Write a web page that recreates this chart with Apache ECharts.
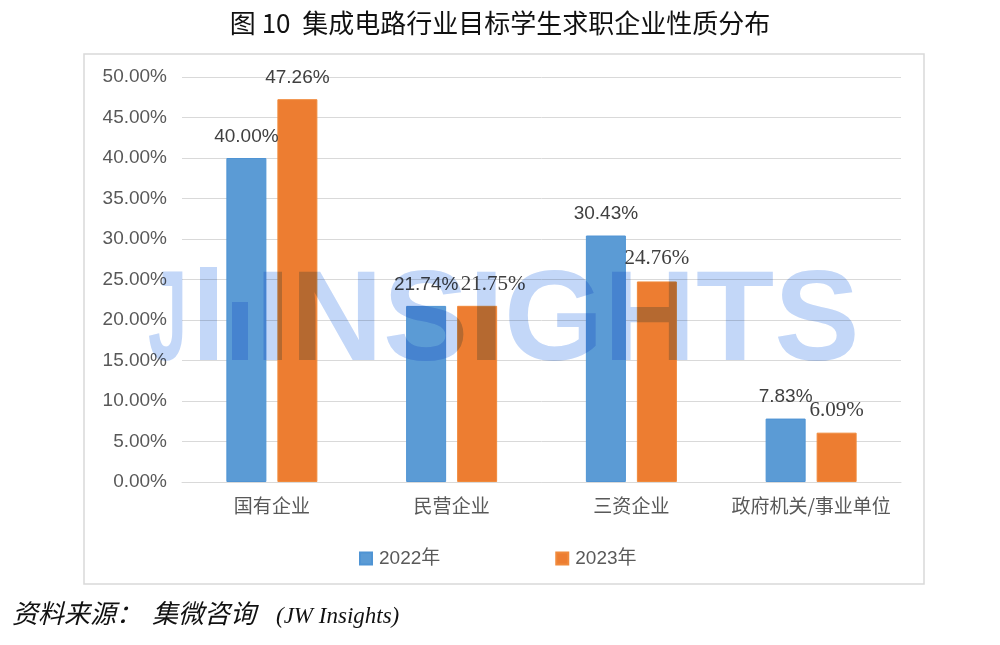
<!DOCTYPE html>
<html>
<head>
<meta charset="utf-8">
<script src="https://cdn.jsdelivr.net/npm/echarts@6/dist/echarts.min.js"></script>
<style>
html,body{margin:0;padding:0;background:#fff;}
#chart{width:1000px;height:645px;}
</style>
</head>
<body>
<div id="chart"></div>
<script>
const titleText = '图 10  集成电路行业目标学生求职企业性质分布';
const categories = ['国有企业', '民营企业', '三资企业', '政府机关/事业单位'];
const seriesNames = ['2022年', '2023年'];
const values2022 = [40.00, 21.74, 30.43, 7.83];
const values2023 = [47.26, 21.75, 24.76, 6.09];
const yTicks = [0, 5, 10, 15, 20, 25, 30, 35, 40, 45, 50];
const sourceParts = ['资料来源：', '集微咨询', '(JW Insights)'];

const chart = echarts.init(document.getElementById('chart'), null, {renderer: 'canvas'});

const sans = "'Liberation Sans', 'Noto Sans CJK SC', sans-serif";
const serif = "'Liberation Serif', serif";
const cjk = "'Noto Sans CJK SC', 'Liberation Sans', sans-serif";
const labelStyle = {
  show: true, position: 'top', distance: 12,
  fontSize: 19, fontFamily: sans, color: '#404040',
  formatter: p => p.value.toFixed(2) + '%'
};

// per-label tweaks (styling only)
const labels2023 = [null,
  {offset: [16, 1], fontFamily: serif, fontSize: 21},
  {fontFamily: serif, fontSize: 21},
  {fontFamily: serif, fontSize: 21}];

function items(vals, labelTweaks) {
  return vals.map((v, i) => {
    const o = {value: v};
    if (labelTweaks && labelTweaks[i]) o.label = labelTweaks[i];
    return o;
  });
}

// watermark drawn on an offscreen canvas, blended with multiply
const wm = document.createElement('canvas');
wm.width = 1000; wm.height = 645;
(function () {
  const c = wm.getContext('2d');
  c.fillStyle = '#c3d7f8';
  c.font = "bold 128px 'Liberation Sans', sans-serif";
  c.textBaseline = 'alphabetic';
  c.save();
  c.translate(148, 0);
  c.scale(0.55, 1);
  c.fillText('J', 0, 360);
  c.restore();
  c.fillRect(200, 267, 17, 93);
  c.fillRect(232, 302, 16, 58);
  c.fillText('INSIGHTS', 255, 360);
})();

const srcFontCjk = "italic 26px 'Liberation Serif', 'Noto Sans CJK SC', serif";
const srcFontLat = "italic 23px 'Liberation Serif', serif";
const option = {
  animation: false,
  title: {
    text: titleText, left: 'center', top: 5,
    textStyle: {fontSize: 26, fontWeight: 'normal', color: '#111', fontFamily: cjk}
  },
  grid: {left: 182, right: 99, top: 77, bottom: 163, containLabel: false},
  legend: {
    data: seriesNames, left: 359, top: 549, itemGap: 115, padding: 0,
    itemWidth: 12, itemHeight: 12, icon: 'rect',
    textStyle: {fontSize: 19, color: '#595959', fontFamily: sans, padding: [0, 0, 0, 2]}
  },
  xAxis: {
    type: 'category', data: categories,
    axisLine: {show: true, lineStyle: {color: '#d9d9d9', width: 1}},
    axisTick: {show: false},
    axisLabel: {fontSize: 19, color: '#595959', fontFamily: cjk, margin: 14, interval: 0}
  },
  yAxis: {
    type: 'value', min: 0, max: 50, interval: 5,
    axisLine: {show: false}, axisTick: {show: false},
    splitLine: {lineStyle: {color: '#d9d9d9', width: 1}},
    axisLabel: {fontSize: 19, color: '#595959', fontFamily: sans, margin: 15,
      formatter: v => (yTicks.includes(v) ? v.toFixed(2) + '%' : '')}
  },
  series: [
    {
      name: seriesNames[0], type: 'bar', data: items(values2022),
      barWidth: 40, barGap: '27.5%',
      itemStyle: {color: '#5b9bd5', borderColor: '#4f94d4', borderWidth: 1},
      label: labelStyle
    },
    {
      name: seriesNames[1], type: 'bar', data: items(values2023, labels2023),
      barWidth: 40, barGap: '27.5%',
      itemStyle: {color: '#ed7d31', borderColor: '#f08a3c', borderWidth: 1},
      label: labelStyle
    }
  ],
  graphic: [
    {type: 'rect', z: -10, silent: true,
      shape: {x: 84, y: 54, width: 840, height: 530},
      style: {fill: null, stroke: '#d9d9d9', lineWidth: 1.5}},
    {type: 'text', z: 100, silent: true, x: 12, y: 616,
      style: {text: sourceParts[0], font: srcFontCjk, fill: '#111', verticalAlign: 'middle', textVerticalAlign: 'middle'}},
    {type: 'text', z: 100, silent: true, x: 152, y: 616,
      style: {text: sourceParts[1], font: srcFontCjk, fill: '#111', verticalAlign: 'middle', textVerticalAlign: 'middle'}},
    {type: 'text', z: 100, silent: true, x: 276, y: 617,
      style: {text: sourceParts[2], font: srcFontLat, fill: '#111', verticalAlign: 'middle', textVerticalAlign: 'middle'}},
    {type: 'image', z: 50, silent: true,
      style: {image: wm, x: 0, y: 0, width: 1000, height: 645, blend: 'multiply'}}
  ]
};
chart.setOption(option);
</script>
</body>
</html>
